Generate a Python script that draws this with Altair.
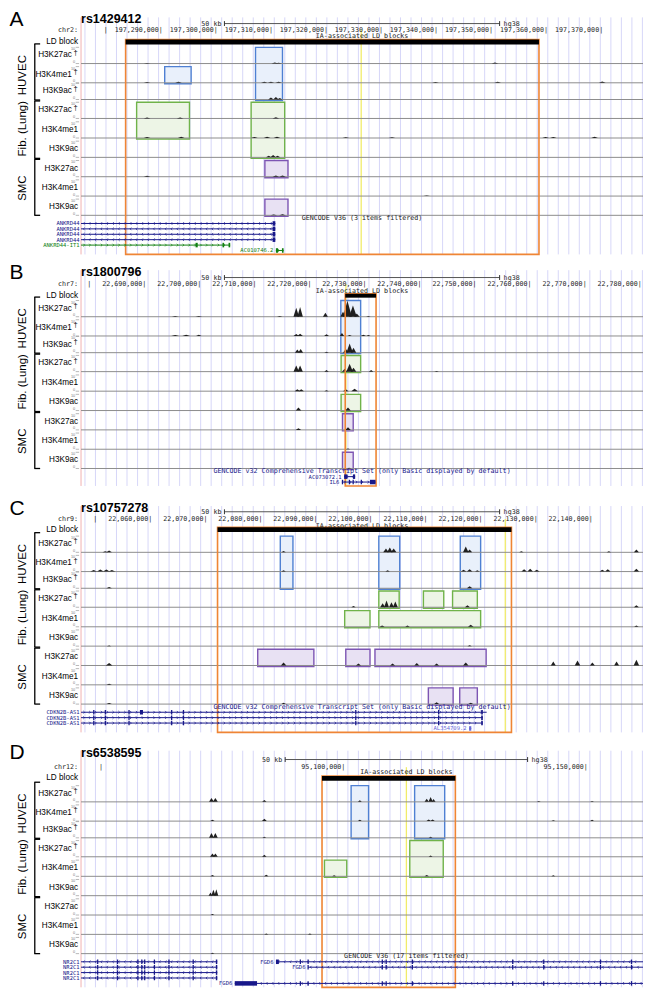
import altair as alt
import numpy as np
import pandas as pd

# ------------------------------------------------------------------ data
PANEL_LETTERS = ["A", "B", "C", "D"]
SNP_IDS = ["rs1429412", "rs1800796", "rs10757278", "rs6538595"]
CHROM_LABELS = ["chr2:", "chr7:", "chr9:", "chr12:"]
WIN_START = [197_275_500, 22_678_500, 22_047_400, 95_045_900]
WIN_END = [197_377_600, 22_780_600, 22_149_500, 95_161_800]
VIEW_CENTER = [197_326_550, 22_729_550, 22_098_450, 95_113_000]
SNP_POS = [197_326_400, 22_726_627, 22_124_478, 95_113_000]
LD_START = [197_283_600, 22_726_500, 22_072_200, 95_095_600]
LD_END = [197_358_700, 22_732_100, 22_125_600, 95_123_100]
SCALE_BAR_BP = 50_000
SCALE_BAR_TEXT = "50 kb"
ASSEMBLY = "hg38"
LD_TRACK_TITLE = "IA-associated LD blocks"

TICK_POS = [
    [197_280_000, 197_290_000, 197_300_000, 197_310_000, 197_320_000,
     197_330_000, 197_340_000, 197_350_000, 197_360_000, 197_370_000],
    [22_680_000, 22_690_000, 22_700_000, 22_710_000, 22_720_000, 22_730_000,
     22_740_000, 22_750_000, 22_760_000, 22_770_000, 22_780_000],
    [22_050_000, 22_060_000, 22_070_000, 22_080_000, 22_090_000,
     22_100_000, 22_110_000, 22_120_000, 22_130_000, 22_140_000],
    [95_050_000, 95_100_000, 95_150_000],
]
TICK_TEXT = [
    ["", "197,290,000", "197,300,000", "197,310,000", "197,320,000",
     "197,330,000", "197,340,000", "197,350,000", "197,360,000", "197,370,000"],
    ["", "22,690,000", "22,700,000", "22,710,000", "22,720,000", "22,730,000",
     "22,740,000", "22,750,000", "22,760,000", "22,770,000", "22,780,000"],
    ["", "22,060,000", "22,070,000", "22,080,000", "22,090,000",
     "22,100,000", "22,110,000", "22,120,000", "22,130,000", "22,140,000"],
    ["", "95,100,000", "95,150,000"],
]
GENCODE_TEXT = [
    "GENCODE V36 (3 items filtered)",
    "GENCODE v32 Comprehensive Transcript Set (only Basic displayed by default)",
    "GENCODE v32 Comprehensive Transcript Set (only Basic displayed by default)",
    "GENCODE V36 (17 items filtered)",
]
GENCODE_KIND = ["plain", "coding", "coding", "plain"]

CELL_TYPES = ["HUVEC", "Fib. (Lung)", "SMC"]
MARKS = ["H3K27ac", "H3K4me1", "H3K9ac"]
TRACK_NAMES = [m for _ in CELL_TYPES for m in MARKS]
TRACK_DAGGER = [True, True, True, True, False, False, False, False, False]

# highlight boxes: (cell type, first track, last track, start, end)
BOXES_A = [
    ("HUVEC", 0, 2, 197_307_200, 197_312_100),
    ("HUVEC", 1, 1, 197_290_700, 197_295_500),
    ("Fib. (Lung)", 3, 4, 197_285_600, 197_295_200),
    ("Fib. (Lung)", 3, 5, 197_306_400, 197_312_500),
    ("SMC", 6, 6, 197_308_900, 197_313_100),
    ("SMC", 8, 8, 197_308_900, 197_313_100),
]
BOXES_B = [
    ("HUVEC", 0, 2, 22_725_700, 22_729_300),
    ("Fib. (Lung)", 3, 3, 22_725_750, 22_729_300),
    ("Fib. (Lung)", 5, 5, 22_725_750, 22_729_300),
    ("SMC", 6, 6, 22_726_000, 22_727_950),
    ("SMC", 8, 8, 22_726_000, 22_727_950),
]
BOXES_C = [
    ("HUVEC", 0, 2, 22_083_600, 22_085_900),
    ("HUVEC", 0, 2, 22_101_500, 22_105_300),
    ("HUVEC", 0, 2, 22_116_300, 22_120_000),
    ("Fib. (Lung)", 3, 3, 22_101_500, 22_105_200),
    ("Fib. (Lung)", 3, 3, 22_109_600, 22_113_300),
    ("Fib. (Lung)", 3, 3, 22_114_900, 22_119_400),
    ("Fib. (Lung)", 4, 4, 22_095_300, 22_099_900),
    ("Fib. (Lung)", 4, 4, 22_101_500, 22_120_000),
    ("SMC", 6, 6, 22_079_500, 22_089_700),
    ("SMC", 6, 6, 22_095_500, 22_099_900),
    ("SMC", 6, 6, 22_100_800, 22_121_000),
    ("SMC", 8, 8, 22_110_500, 22_115_000),
    ("SMC", 8, 8, 22_116_200, 22_119_400),
]
BOXES_D = [
    ("HUVEC", 0, 2, 95_101_600, 95_105_200),
    ("HUVEC", 0, 2, 95_114_700, 95_120_900),
    ("Fib. (Lung)", 3, 4, 95_113_700, 95_120_600),
    ("Fib. (Lung)", 4, 4, 95_096_100, 95_100_700),
]

# ChIP-seq signal peaks: (track, centre, half width bp, height on 0-10 scale)
PEAKS_A = [
    (0, 197_310_700, 600, 0.7), (0, 197_311_400, 600, 0.5), (0, 197_350_700, 600, 0.6),
    (0, 197_287_500, 600, 0.3),
    (1, 197_287_500, 600, 0.5), (1, 197_293_200, 600, 0.7), (1, 197_308_800, 600, 0.6),
    (1, 197_310_000, 600, 0.6), (1, 197_311_400, 600, 0.7), (1, 197_339_900, 600, 0.5),
    (1, 197_351_200, 600, 0.6), (1, 197_370_200, 600, 0.8),
    (2, 197_310_000, 500, 1.2), (2, 197_310_900, 500, 1.5), (2, 197_311_600, 500, 1.0),
    (3, 197_287_500, 600, 0.6), (3, 197_293_500, 600, 0.6), (3, 197_310_900, 600, 0.8),
    (4, 197_287_500, 600, 0.6), (4, 197_293_700, 600, 0.7), (4, 197_307_000, 600, 0.6),
    (4, 197_309_300, 600, 0.7), (4, 197_311_100, 600, 0.7), (4, 197_323_600, 600, 0.5),
    (4, 197_332_000, 600, 0.4), (4, 197_359_900, 600, 0.6), (4, 197_361_300, 600, 0.6),
    (4, 197_368_800, 600, 0.7),
    (5, 197_309_600, 500, 1.0), (5, 197_310_400, 500, 1.4), (5, 197_311_200, 500, 1.0),
    (6, 197_287_500, 600, 0.6), (6, 197_310_900, 600, 0.7), (6, 197_312_100, 600, 0.8),
    (7, 197_338_300, 600, 0.3),
    (8, 197_310_500, 600, 0.5), (8, 197_312_100, 600, 0.6),
]
PEAKS_B = [
    (0, 22_695_600, 600, 0.4), (0, 22_699_900, 600, 0.5), (0, 22_714_600, 500, 0.4),
    (0, 22_717_600, 500, 5.5), (0, 22_718_300, 500, 6.0), (0, 22_722_900, 450, 2.4),
    (0, 22_726_100, 500, 3.0), (0, 22_726_900, 800, 9.8), (0, 22_727_900, 700, 7.0),
    (0, 22_728_600, 500, 2.0), (0, 22_730_700, 400, 0.4),
    (1, 22_695_600, 700, 0.6), (1, 22_697_600, 700, 0.8), (1, 22_699_900, 500, 0.8),
    (1, 22_717_600, 500, 1.2), (1, 22_718_300, 500, 1.4), (1, 22_723_100, 450, 1.0),
    (1, 22_725_900, 400, 1.8), (1, 22_727_300, 400, 0.6), (1, 22_729_800, 500, 0.7),
    (1, 22_730_700, 400, 0.6),
    (2, 22_717_800, 450, 2.0), (2, 22_718_400, 450, 2.2), (2, 22_723_100, 400, 0.6),
    (2, 22_726_600, 500, 2.4), (2, 22_727_300, 600, 5.6), (2, 22_728_000, 500, 3.0),
    (3, 22_717_600, 500, 3.8), (3, 22_718_300, 500, 3.8), (3, 22_723_100, 400, 1.0),
    (3, 22_726_400, 500, 1.8), (3, 22_727_300, 600, 4.8), (3, 22_728_000, 500, 2.4),
    (3, 22_731_200, 400, 1.0), (3, 22_743_100, 400, 0.4),
    (4, 22_717_800, 500, 1.2), (4, 22_718_500, 500, 1.2), (4, 22_723_100, 400, 0.6),
    (4, 22_726_600, 500, 1.2), (4, 22_728_200, 600, 1.5),
    (5, 22_718_000, 500, 1.8), (5, 22_727_000, 500, 1.8),
    (6, 22_718_000, 500, 1.0), (6, 22_727_000, 500, 1.6),
    (7, 22_727_000, 400, 0.5),
    (8, 22_727_200, 400, 0.5),
]
PEAKS_C = [
    (0, 22_051_800, 500, 0.6), (0, 22_052_500, 500, 1.2), (0, 22_084_200, 400, 0.8),
    (0, 22_102_800, 500, 2.4), (0, 22_103_500, 500, 3.0), (0, 22_104_200, 500, 2.4),
    (0, 22_117_300, 500, 3.6), (0, 22_118_000, 450, 1.8), (0, 22_127_400, 400, 0.6),
    (0, 22_143_300, 400, 0.6), (0, 22_148_300, 450, 1.8),
    (1, 22_049_700, 600, 1.0), (1, 22_050_900, 600, 1.3), (1, 22_052_000, 600, 1.3),
    (1, 22_053_000, 600, 1.0), (1, 22_084_200, 400, 0.8), (1, 22_103_100, 400, 0.8),
    (1, 22_116_900, 500, 1.2), (1, 22_118_000, 500, 1.5), (1, 22_119_400, 400, 0.8),
    (1, 22_127_900, 500, 1.5), (1, 22_129_000, 500, 1.8), (1, 22_130_200, 500, 1.2),
    (1, 22_142_100, 500, 1.2), (1, 22_143_100, 500, 1.5), (1, 22_148_300, 500, 1.8),
    (2, 22_052_500, 500, 0.8), (2, 22_118_000, 500, 1.2),
    (3, 22_096_900, 400, 0.8), (3, 22_102_200, 450, 2.4), (3, 22_102_900, 450, 4.2),
    (3, 22_103_800, 450, 3.0), (3, 22_104_500, 450, 3.6), (3, 22_117_600, 450, 1.2),
    (3, 22_148_300, 450, 1.2),
    (4, 22_102_100, 450, 0.8), (4, 22_106_700, 400, 0.8), (4, 22_118_200, 500, 1.2),
    (4, 22_148_300, 400, 0.8),
    (5, 22_052_500, 400, 0.4), (5, 22_118_000, 400, 0.5),
    (6, 22_052_500, 600, 1.5), (6, 22_084_200, 500, 1.8), (6, 22_097_800, 450, 1.2),
    (6, 22_104_000, 450, 1.2), (6, 22_108_400, 450, 1.5), (6, 22_112_000, 450, 1.2),
    (6, 22_117_300, 500, 1.8), (6, 22_133_200, 450, 2.4), (6, 22_137_600, 500, 3.0),
    (6, 22_140_300, 450, 1.8), (6, 22_144_700, 450, 2.4), (6, 22_148_300, 500, 3.6),
    (7, 22_052_500, 500, 0.6),
    (8, 22_052_500, 500, 0.6), (8, 22_084_200, 400, 0.8), (8, 22_112_000, 450, 1.2),
    (8, 22_118_200, 450, 0.8),
]
PEAKS_D = [
    (0, 95_072_800, 500, 2.4), (0, 95_073_600, 500, 2.4), (0, 95_083_700, 450, 1.2),
    (0, 95_103_400, 400, 1.0), (0, 95_117_200, 450, 2.0), (0, 95_118_000, 450, 3.0),
    (0, 95_118_600, 400, 1.8), (0, 95_140_300, 400, 0.6), (0, 95_151_300, 400, 0.6),
    (1, 95_073_000, 450, 0.8), (1, 95_083_700, 500, 1.5), (1, 95_103_400, 400, 0.8),
    (1, 95_117_600, 450, 1.0), (1, 95_118_400, 450, 1.0), (1, 95_143_300, 400, 0.6),
    (1, 95_151_300, 400, 0.8),
    (2, 95_072_800, 500, 3.0), (2, 95_073_600, 500, 3.0), (2, 95_083_700, 400, 0.6),
    (2, 95_118_000, 400, 0.6),
    (3, 95_073_000, 500, 2.0), (3, 95_073_600, 500, 2.0), (3, 95_083_700, 450, 1.2),
    (3, 95_118_000, 400, 0.8),
    (4, 95_073_000, 450, 0.8), (4, 95_084_100, 450, 1.0), (4, 95_098_100, 400, 0.6),
    (4, 95_117_200, 450, 0.8), (4, 95_143_300, 400, 0.6),
    (5, 95_072_600, 400, 2.0), (5, 95_073_200, 450, 3.6), (5, 95_073_800, 400, 4.0),
    (6, 95_073_000, 400, 0.6),
    (7, 95_084_100, 400, 0.6), (7, 95_093_100, 400, 0.6),
    (8, 95_073_000, 400, 0.6),
]

# genes: (name, row, start, end, strand, kind, exons, label placement)
ANK_EX = [(197_310_300, 197_310_800)]
GENES_A = [
    ("ANKRD44", 0, 197_199_000, 197_310_800, "-", "coding", ANK_EX, "margin"),
    ("ANKRD44", 1, 197_199_000, 197_310_800, "-", "coding", ANK_EX, "margin"),
    ("ANKRD44", 2, 197_199_000, 197_310_800, "-", "coding", ANK_EX, "margin"),
    ("ANKRD44", 3, 197_199_000, 197_310_800, "-", "coding", ANK_EX, "margin"),
    ("ANKRD44-IT1", 4, 197_199_000, 197_302_600, "+", "noncoding",
     [(197_296_300, 197_296_700), (197_301_200, 197_301_500), (197_302_300, 197_302_600)], "margin"),
    ("AC010746.2", 5, 197_310_900, 197_312_300, "+", "noncoding",
     [(197_310_900, 197_311_300), (197_312_000, 197_312_300)], "feature"),
]
GENES_B = [
    ("AC073072.1", 0, 22_726_300, 22_728_300, "-", "coding",
     [(22_726_300, 22_726_900), (22_727_900, 22_728_300)], "feature"),
    ("IL6", 1, 22_725_884, 22_732_002, "+", "coding",
     [(22_725_884, 22_726_100), (22_727_150, 22_727_350), (22_727_830, 22_727_960),
      (22_729_310, 22_729_460), (22_731_000, 22_732_002)], "feature"),
]
CDK_EX = [(22_049_600, 22_049_800), (22_051_700, 22_051_900), (22_056_000, 22_056_150),
          (22_063_750, 22_063_900), (22_065_900, 22_066_050), (22_097_200, 22_097_350),
          (22_112_250, 22_112_400), (22_120_100, 22_120_400)]
GENES_C = [
    ("CDKN2B-AS1", 0, 21_994_778, 22_121_097, "+", "coding",
     CDK_EX + [(22_058_100, 22_058_650)], "margin"),
    ("CDKN2B-AS1", 1, 21_994_778, 22_120_400, "+", "coding", CDK_EX, "margin"),
    ("CDKN2B-AS1", 2, 21_994_778, 22_120_400, "+", "coding", CDK_EX, "margin"),
    ("AL354709.2", 3, 22_117_900, 22_118_300, "+", "other",
     [(22_117_900, 22_118_300)], "feature"),
]
NR_EX = [(95_049_200, 95_049_450), (95_053_300, 95_053_500), (95_057_500, 95_057_700),
         (95_058_300, 95_058_500), (95_058_900, 95_059_100), (95_060_900, 95_061_100),
         (95_063_900, 95_064_100), (95_068_900, 95_069_100), (95_073_700, 95_074_000)]
FGD_EX = [(95_091_000, 95_091_250), (95_092_600, 95_092_850), (95_107_900, 95_108_100),
          (95_108_700, 95_108_900), (95_114_100, 95_114_300), (95_134_800, 95_135_000),
          (95_141_200, 95_141_400), (95_152_900, 95_153_100), (95_159_300, 95_159_500)]
GENES_D = [
    ("NR2C1", 0, 95_020_000, 95_074_000, "-", "coding", NR_EX, "margin"),
    ("NR2C1", 1, 95_020_000, 95_074_000, "-", "coding", NR_EX, "margin"),
    ("NR2C1", 2, 95_020_000, 95_074_000, "-", "coding", NR_EX, "margin"),
    ("NR2C1", 3, 95_020_000, 95_074_000, "-", "coding", NR_EX, "margin"),
    ("FGD6", 0, 95_086_100, 95_210_000, "-", "coding",
     [(95_086_100, 95_086_700)] + FGD_EX, "feature"),
    ("FGD6", 1, 95_092_700, 95_210_000, "-", "coding", FGD_EX[1:], "feature"),
    ("FGD6", 4, 95_077_600, 95_210_000, "-", "coding",
     [(95_077_600, 95_082_200)] + FGD_EX, "feature"),
]

# ------------------------------------------------------------------ layout / style
FIG_W, FIG_H = 652, 991
OUT_W, OUT_H = 636, 975
KX, KY = OUT_W / FIG_W, OUT_H / FIG_H
BROWSER_X0, BROWSER_X1 = 75, 652
PANEL_H = [250, 237, 250, 254]
PANEL_T = [35, 42.7, 44.7, 48.7]
HDR_TITLE = [-28.3, -28.7, -28.4, -33.4]
HDR_SCALE = [-24.0, -23.2, -24.6, -26.4]
HDR_CHR = [-17.8, -16.6, -17.3, -18.6]
HDR_IA = [-11.3, -9.8, -10.4, -13.2]
HDR_LD0 = [-7.7, -6.7, -8.7, -9.7]
HDR_LD1 = [-2.7, -2.7, -4.0, -4.7]
TRACK_BASE = [16.7, 36.3, 53.3, 72.6, 92.5, 112.2, 131.9, 151.6, 171.2]
TRACK_H = 16.5
GENCODE_Y = 173.9
GENE_ROW0, GENE_STEP = 179.5, 5.5
GROUP_SPAN = [(-3.3, 53.8), (54.8, 113.2), (114.2, 171.2)]
GROUP_LABEL_Y = [28.5, 83.0, 143.5]
GRID_STEP, GRID_PHASE = 10.8, 4.0

FONT_UI = "DejaVu Sans Mono"
FONT_MAIN = "Liberation Sans, Arial, Helvetica, sans-serif"
UI_SIZE = 6.7
LABEL_SIZE = 8.2
GENE_LABEL_SIZE = 5.5
GRID_COLOR = "#d3d3f7"
ORANGE = "#ef8535"
BOX_FILL = ["#e9f0fb", "#edf5e6", "#e8e1f3"]
BOX_STROKE = ["#4f80d3", "#70b34a", "#7d55b3"]
KIND_DOMAIN = ["coding", "noncoding", "other", "plain"]
KIND_RANGE = ["#17178a", "#118011", "#6a6ad8", "#222222"]


def make_panel(p, boxes, peaks, genes):
    ws, we = WIN_START[p], WIN_END[p]
    H, T = PANEL_H[p], PANEL_T[p]
    bpp = (we - ws) / (BROWSER_X1 - BROWSER_X0)
    xs = alt.Scale(domain=[ws, we], range=[BROWSER_X0 * KX, BROWSER_X1 * KX], zero=False, nice=False)
    ys = alt.Scale(domain=[0, H], range=[0, H * KY], zero=False, nice=False)
    kind_scale = alt.Scale(domain=KIND_DOMAIN, range=KIND_RANGE)

    def X(f):
        return alt.X(f, type="quantitative", scale=xs, axis=None)

    def Y(f):
        return alt.Y(f, type="quantitative", scale=ys, axis=None)

    def px(v):
        return alt.value(v * KX)

    def C(f):
        return alt.Color(f, type="nominal", scale=kind_scale, legend=None)

    base = [T + b for b in TRACK_BASE]
    top = [b - TRACK_H for b in base]
    n_rows = max(g[1] for g in genes) + 1

    def row_y(r):
        return T + GENE_ROW0 + GENE_STEP * r

    bottom = row_y(n_rows - 1) + 4
    hdr_top = T + HDR_TITLE[p] - 2
    L = []

    # guidelines + left edge
    gdf = pd.DataFrame({"g": np.arange(ws + GRID_PHASE * bpp, we, GRID_STEP * bpp)})
    gdf["y0"], gdf["y1"] = hdr_top, bottom
    L.append(alt.Chart(gdf).mark_rule(color=GRID_COLOR, strokeWidth=0.9).encode(
        x=X("g"), y=Y("y0"), y2="y1"))
    edf = pd.DataFrame({"g": [ws], "y0": [hdr_top], "y1": [bottom]})
    L.append(alt.Chart(edf).mark_rule(color="#f2b2b2", strokeWidth=1).encode(
        x=X("g"), y=Y("y0"), y2="y1"))
    # SNP line
    sdf = pd.DataFrame({"g": [SNP_POS[p]], "y0": [T + HDR_CHR[p]], "y1": [bottom]})
    L.append(alt.Chart(sdf).mark_rule(color="#f1ec6a", strokeWidth=1.3).encode(
        x=X("g"), y=Y("y0"), y2="y1"))

    # highlight boxes
    bdf = pd.DataFrame(boxes, columns=["cell", "t0", "t1", "x0", "x1"])
    bdf["y0"] = [top[t] for t in bdf["t0"]]
    bdf["y1"] = [base[t] + 1 for t in bdf["t1"]]
    L.append(alt.Chart(bdf).mark_rect(strokeWidth=1.4).encode(
        x=X("x0"), x2="x1", y=Y("y0"), y2="y1",
        fill=alt.Fill("cell:N", scale=alt.Scale(domain=CELL_TYPES, range=BOX_FILL), legend=None),
        stroke=alt.Stroke("cell:N", scale=alt.Scale(domain=CELL_TYPES, range=BOX_STROKE), legend=None)))

    # track baselines
    tdf = pd.DataFrame({"x0": ws, "x1": we, "y": base})
    L.append(alt.Chart(tdf).mark_rule(color="#8d8d8d", strokeWidth=1).encode(
        x=X("x0"), x2="x1", y=Y("y")))

    # signal peaks
    rows = []
    for i, (t, c, hw, h) in enumerate(peaks):
        b = base[t]
        rows += [(i, c - hw, b, b), (i, c, b - h * TRACK_H / 10, b), (i, c + hw, b, b)]
    pdf = pd.DataFrame(rows, columns=["pid", "g", "yv", "yb"])
    L.append(alt.Chart(pdf).mark_area(color="#1f1f1f", opacity=1).encode(
        x=X("g"), y=Y("yv"), y2="yb", detail="pid:N"))

    # LD block: orange frame and black bar
    odf = pd.DataFrame({"x0": [LD_START[p]], "x1": [LD_END[p]],
                        "y0": [T + HDR_LD0[p]], "y1": [bottom], "y2": [T + HDR_LD1[p]]})
    L.append(alt.Chart(odf).mark_rect(fillOpacity=0, stroke=ORANGE, strokeWidth=1.6).encode(
        x=X("x0"), x2="x1", y=Y("y0"), y2="y1"))
    L.append(alt.Chart(odf).mark_rect(color="black").encode(
        x=X("x0"), x2="x1", y=Y("y0"), y2="y2"))

    # scale bar
    vc = VIEW_CENTER[p]
    ysb = T + HDR_SCALE[p]
    sbdf = pd.DataFrame({"x0": [vc - SCALE_BAR_BP / 2], "x1": [vc + SCALE_BAR_BP / 2], "y": [ysb],
                         "ya": [ysb - 2.5], "yb": [ysb + 2.5],
                         "t0": [SCALE_BAR_TEXT], "t1": [ASSEMBLY]})
    L.append(alt.Chart(sbdf).mark_rule(color="#555", strokeWidth=1).encode(
        x=X("x0"), x2="x1", y=Y("y")))
    L.append(alt.Chart(sbdf).mark_rule(color="#333", strokeWidth=1).encode(
        x=X("x0"), y=Y("ya"), y2="yb"))
    L.append(alt.Chart(sbdf).mark_rule(color="#333", strokeWidth=1).encode(
        x=X("x1"), y=Y("ya"), y2="yb"))
    L.append(alt.Chart(sbdf).mark_text(align="right", baseline="middle", font=FONT_UI,
                                       fontSize=UI_SIZE, dx=-3, color="#222").encode(
        x=X("x0"), y=Y("y"), text="t0:N"))
    L.append(alt.Chart(sbdf).mark_text(align="left", baseline="middle", font=FONT_UI,
                                       fontSize=UI_SIZE, dx=4, color="#222").encode(
        x=X("x1"), y=Y("y"), text="t1:N"))

    # chromosome ruler
    kdf = pd.DataFrame({"g": TICK_POS[p], "label": [t + "|" for t in TICK_TEXT[p]]})
    kdf["y"] = T + HDR_CHR[p]
    L.append(alt.Chart(kdf).mark_text(align="right", baseline="middle", font=FONT_UI,
                                      fontSize=UI_SIZE, dx=2, color="#222").encode(
        x=X("g"), y=Y("y"), text="label:N"))
    cdf = pd.DataFrame({"label": [CHROM_LABELS[p]], "y": [T + HDR_CHR[p]]})
    L.append(alt.Chart(cdf).mark_text(align="right", baseline="middle", font=FONT_UI,
                                      fontSize=UI_SIZE, color="#222").encode(
        x=px(72), y=Y("y"), text="label:N"))

    # centred track titles
    hdf = pd.DataFrame({"g": [vc, vc], "y": [T + HDR_IA[p], T + GENCODE_Y],
                        "label": [LD_TRACK_TITLE, GENCODE_TEXT[p]],
                        "kind": ["plain", GENCODE_KIND[p]]})
    L.append(alt.Chart(hdf).mark_text(align="center", baseline="middle", font=FONT_UI,
                                      fontSize=UI_SIZE).encode(
        x=X("g"), y=Y("y"), text="label:N", color=C("kind")))

    # genes
    lines, chev, exs, labs_m, labs_f = [], [], [], [], []
    step = 6 * bpp
    for name, r, s, e, strand, kind, exons, mode in genes:
        y = row_y(r)
        a, b = max(s, ws), min(e, we)
        lines.append((a, b, y, kind))
        for g in np.arange(a + step / 2, b - step / 3, step):
            chev.append((g, y, strand, kind))
        for (es, ee) in exons:
            es, ee = max(es, ws), min(ee, we)
            if ee <= es:
                continue
            ee = max(ee, es + 1.3 * bpp)
            exs.append((es, ee, y - 2.3, y + 2.3, kind))
        if mode == "margin":
            labs_m.append((name, y, kind))
        else:
            labs_f.append((name, s, y, kind))
    ldf = pd.DataFrame(lines, columns=["x0", "x1", "y", "kind"])
    L.append(alt.Chart(ldf).mark_rule(strokeWidth=1).encode(
        x=X("x0"), x2="x1", y=Y("y"), color=C("kind")))
    chdf = pd.DataFrame(chev, columns=["g", "y", "strand", "kind"])
    L.append(alt.Chart(chdf).mark_point(filled=False, size=7, strokeWidth=0.7, opacity=1).encode(
        x=X("g"), y=Y("y"), color=C("kind"),
        shape=alt.Shape("strand:N", scale=alt.Scale(
            domain=["+", "-"], range=["M-0.5,-1L0.5,0L-0.5,1", "M0.5,-1L-0.5,0L0.5,1"]), legend=None)))
    exdf = pd.DataFrame(exs, columns=["x0", "x1", "y0", "y1", "kind"])
    L.append(alt.Chart(exdf).mark_rect().encode(
        x=X("x0"), x2="x1", y=Y("y0"), y2="y1", color=C("kind")))
    if labs_m:
        lmdf = pd.DataFrame(labs_m, columns=["label", "y", "kind"])
        L.append(alt.Chart(lmdf).mark_text(align="right", baseline="middle", font=FONT_UI,
                                           fontSize=GENE_LABEL_SIZE).encode(
            x=px(73.5), y=Y("y"), text="label:N", color=C("kind")))
    if labs_f:
        lfdf = pd.DataFrame(labs_f, columns=["label", "g", "y", "kind"])
        L.append(alt.Chart(lfdf).mark_text(align="right", baseline="middle", font=FONT_UI,
                                           fontSize=GENE_LABEL_SIZE, dx=-2.5).encode(
            x=X("g"), y=Y("y"), text="label:N", color=C("kind")))

    # ---- left-hand labels
    ttl = pd.DataFrame({"letter": [PANEL_LETTERS[p]], "snp": [SNP_IDS[p]],
                        "y": [T + HDR_TITLE[p] + 0.8], "ys": [T + HDR_TITLE[p]],
                        "ld": ["LD block"], "yl": [T + (HDR_LD0[p] + HDR_LD1[p]) / 2]})
    L.append(alt.Chart(ttl).mark_text(align="left", baseline="middle", font=FONT_MAIN,
                                      fontSize=21, color="black").encode(
        x=px(1.5), y=Y("y"), text="letter:N"))
    L.append(alt.Chart(ttl).mark_text(align="left", baseline="middle", font=FONT_MAIN,
                                      fontSize=12.5, fontWeight="bold", color="black").encode(
        x=px(75), y=Y("ys"), text="snp:N"))
    L.append(alt.Chart(ttl).mark_text(align="right", baseline="middle", font=FONT_MAIN,
                                      fontSize=LABEL_SIZE, color="black").encode(
        x=px(72), y=Y("yl"), text="ld:N"))

    trk = pd.DataFrame({"label": TRACK_NAMES, "dag": TRACK_DAGGER,
                        "y": [b - 8.3 for b in base], "top": top, "base": base})
    trk["ten"], trk["zero"] = "10", "0"
    L.append(alt.Chart(trk[trk["dag"]]).mark_text(align="right", baseline="middle", font=FONT_MAIN,
                                                  fontSize=LABEL_SIZE, color="black").encode(
        x=px(65.5), y=Y("y"), text="label:N"))
    dg = trk[trk["dag"]].assign(d="†")
    L.append(alt.Chart(dg).mark_text(align="left", baseline="middle", font=FONT_MAIN,
                                     fontSize=7.5, dy=-2.8, color="black").encode(
        x=px(67.2), y=Y("y"), text="d:N"))
    L.append(alt.Chart(trk[~trk["dag"]]).mark_text(align="right", baseline="middle", font=FONT_MAIN,
                                                   fontSize=LABEL_SIZE, color="black").encode(
        x=px(72), y=Y("y"), text="label:N"))
    # mini axis labels (10 at track top, 0 at baseline)
    L.append(alt.Chart(trk).mark_text(align="right", baseline="top", font=FONT_MAIN,
                                      fontSize=3.8, color="#777").encode(
        x=px(69), y=Y("top"), text="ten:N"))
    L.append(alt.Chart(trk).mark_text(align="right", baseline="bottom", font=FONT_MAIN,
                                      fontSize=3.8, dy=0.6, color="#777").encode(
        x=px(69), y=Y("base"), text="zero:N"))
    L.append(alt.Chart(trk).mark_rule(color="#999", strokeWidth=0.7).encode(
        x=px(69.5), x2=px(73), y=Y("top")))
    L.append(alt.Chart(trk).mark_rule(color="#999", strokeWidth=0.7).encode(
        x=px(69.5), x2=px(73), y=Y("base")))

    # cell-type brackets
    grp = pd.DataFrame({"cell": CELL_TYPES,
                        "y0": [T + a for a, _ in GROUP_SPAN],
                        "y1": [T + b for _, b in GROUP_SPAN],
                        "ym": [T + m for m in GROUP_LABEL_Y]})
    L.append(alt.Chart(grp).mark_rule(color="black", strokeWidth=1.3).encode(
        x=px(27.5), y=Y("y0"), y2="y1"))
    L.append(alt.Chart(grp).mark_rule(color="black", strokeWidth=1.3).encode(
        x=px(27), x2=px(33), y=Y("y0")))
    L.append(alt.Chart(grp).mark_rule(color="black", strokeWidth=1.3).encode(
        x=px(27), x2=px(33), y=Y("y1")))
    L.append(alt.Chart(grp).mark_text(align="center", baseline="middle", angle=270,
                                      font=FONT_MAIN, fontSize=11.5, color="black").encode(
        x=px(15.5), y=Y("ym"), text="cell:N"))

    return alt.layer(*L).properties(width=OUT_W, height=H * KY)


panels = [
    make_panel(0, BOXES_A, PEAKS_A, GENES_A),
    make_panel(1, BOXES_B, PEAKS_B, GENES_B),
    make_panel(2, BOXES_C, PEAKS_C, GENES_C),
    make_panel(3, BOXES_D, PEAKS_D, GENES_D),
]

chart = alt.vconcat(*panels, spacing=0, bounds="flush").properties(
    padding=0, background="white"
).configure_view(stroke=None)

chart.save("out.html", embed_options={"renderer": "svg", "actions": False})
